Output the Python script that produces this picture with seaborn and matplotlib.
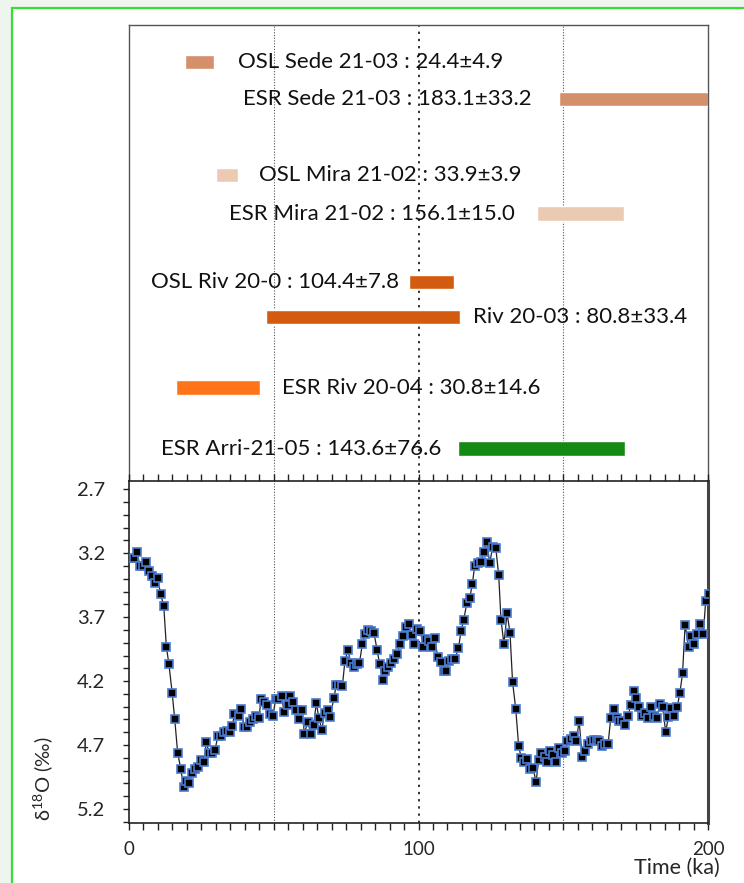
import numpy as np
import pandas as pd

import matplotlib.pyplot as plt
import matplotlib.patches as mpatches
import seaborn as sns

# ---- dated samples (bars in the top panel) ----
sample_labels = ['OSL Sede 21-03 : 24.4±4.9', 'ESR Sede 21-03 : 183.1±33.2',
                 'OSL Mira 21-02 : 33.9±3.9', 'ESR Mira 21-02 : 156.1±15.0',
                 'OSL Riv 20-0 : 104.4±7.8', 'Riv 20-03 : 80.8±33.4',
                 'ESR Riv 20-04 : 30.8±14.6', 'ESR Arri-21-05 : 143.6±76.6']
bar_lo = [19.5, 148.5, 30.0, 141.1, 96.6, 47.4, 16.2, 113.6]
bar_hi = [29.3, 216.3, 37.8, 171.1, 112.2, 114.2, 45.4, 171.3]
bar_colors = ['#d4906a', '#d4906a', '#ebcab3', '#ebcab3',
              '#d35b10', '#d35b10', '#ff7419', '#148a14']

# ---- benthic d18O stack, 0-200 ka ----
age = [0.7, 1.8, 2.9, 3.7, 4.8, 6.0, 6.9, 7.8, 8.9, 9.9, 10.9, 12.0, 12.9, 13.8, 14.9,
       15.8, 16.8, 17.9, 18.9, 19.8, 20.8, 21.9, 22.8, 23.8, 24.9, 25.9, 26.7, 27.7, 28.8,
       29.7, 30.7, 31.8, 32.8, 33.9, 34.9, 35.7, 36.4, 37.9, 38.8, 39.7, 40.9, 41.8, 42.9,
       43.8, 44.8, 45.7, 46.6, 47.8, 48.6, 49.7, 50.7, 51.6, 52.7, 53.6, 54.8, 55.7, 56.8,
       57.7, 58.6, 59.7, 60.6, 61.7, 62.8, 63.8, 64.7, 65.6, 66.6, 67.6, 68.6, 69.5, 70.8,
       71.6, 72.6, 73.7, 74.6, 75.6, 76.7, 77.7, 78.6, 79.6, 80.6, 81.5, 82.7, 83.6, 84.6,
       85.7, 86.6, 87.6, 88.5, 89.6, 90.6, 91.6, 92.6, 93.6, 94.6, 95.6, 96.6, 97.7, 98.6,
       99.5, 100.6, 101.7, 102.5, 103.5, 104.6, 105.6, 106.6, 107.7, 108.7, 109.6, 110.6,
       111.7, 112.6, 113.8, 114.7, 115.6, 116.7, 117.7, 118.6, 119.4, 120.4, 121.6, 122.5,
       123.6, 124.6, 125.6, 126.7, 127.7, 128.5, 129.5, 130.6, 131.6, 132.5, 133.6, 134.6,
       135.5, 136.6, 137.6, 138.5, 139.6, 140.6, 141.5, 142.4, 143.6, 144.5, 145.4, 146.6,
       147.5, 148.4, 149.6, 150.7, 151.4, 152.6, 153.6, 154.5, 155.5, 156.5, 157.5, 158.5,
       159.5, 160.5, 161.5, 162.5, 163.4, 164.4, 165.5, 166.4, 167.4, 168.5, 169.4, 170.4,
       171.4, 172.4, 173.3, 174.4, 175.3, 176.3, 177.2, 178.2, 179.3, 180.2, 181.3, 182.3,
       183.4, 184.3, 185.4, 186.3, 187.3, 188.3, 189.4, 190.3, 191.2, 192.1, 193.3, 194.2,
       195.3, 196.3, 197.4, 198.4, 199.2, 200.2]
d18o = [3.24, 3.24, 3.19, 3.30, 3.30, 3.27, 3.34, 3.38, 3.43, 3.39, 3.52, 3.61, 3.93, 4.07, 4.29,
        4.50, 4.76, 4.89, 5.03, 4.98, 5.00, 4.92, 4.89, 4.87, 4.82, 4.83, 4.68, 4.76, 4.76,
        4.74, 4.63, 4.63, 4.60, 4.59, 4.60, 4.55, 4.46, 4.47, 4.42, 4.56, 4.56, 4.52, 4.50,
        4.47, 4.49, 4.34, 4.36, 4.39, 4.46, 4.47, 4.34, 4.34, 4.32, 4.44, 4.39, 4.32, 4.36,
        4.43, 4.50, 4.43, 4.61, 4.52, 4.61, 4.54, 4.37, 4.49, 4.58, 4.45, 4.43, 4.48, 4.33,
        4.23, 4.23, 4.24, 4.04, 3.96, 4.06, 4.09, 4.07, 4.06, 3.91, 3.83, 3.80, 3.81, 3.82,
        3.96, 4.07, 4.19, 4.12, 4.09, 4.06, 4.03, 3.99, 3.91, 3.85, 3.78, 3.75, 3.84, 3.91,
        3.79, 3.81, 3.93, 3.87, 3.89, 3.93, 3.86, 4.01, 4.05, 4.12, 4.12, 4.04,
        4.03, 4.03, 3.94, 3.81, 3.72, 3.59, 3.55, 3.44, 3.30, 3.28, 3.27, 3.19,
        3.11, 3.28, 3.15, 3.16, 3.37, 3.72, 3.91, 3.67, 3.82, 4.21, 4.42, 4.71,
        4.80, 4.83, 4.81, 4.89, 4.88, 4.99, 4.82, 4.76, 4.79, 4.83, 4.75, 4.78,
        4.83, 4.72, 4.76, 4.75, 4.67, 4.65, 4.63, 4.67, 4.51, 4.79, 4.75, 4.69,
        4.67, 4.66, 4.66, 4.67, 4.71, 4.69, 4.69, 4.49, 4.42, 4.49, 4.51, 4.51,
        4.54, 4.47, 4.39, 4.28, 4.33, 4.40, 4.47, 4.45, 4.49, 4.40, 4.47, 4.49,
        4.38, 4.40, 4.60, 4.48, 4.41, 4.47, 4.40, 4.29, 4.14, 3.76, 3.93, 3.85,
        3.91, 3.83, 3.75, 3.83, 3.57, 3.52]

x_labels = ['0', '100', '200']
y_labels = ['2.7', '3.2', '3.7', '4.2', '4.7', '5.2']

sns.set_theme(style='white')
plt.rcParams['font.family'] = ['Lato', 'DejaVu Sans']
plt.rcParams['mathtext.default'] = 'regular'

W, H = 744, 883
fig = plt.figure(figsize=(W / 100, H / 100), dpi=100)
fig.patch.set_facecolor('white')

# outer green frame
fig.patches.append(mpatches.Rectangle((0, 0), 1, 1, transform=fig.transFigure,
                                      facecolor='#eef4ee', edgecolor='none', zorder=-3))
fig.patches.append(mpatches.Rectangle((12 / W, -0.1), 1.2, 1 - 8 / H + 0.1,
                                      transform=fig.transFigure, facecolor='white',
                                      edgecolor='#33e033', lw=1.6, zorder=-2))

L, R = 129 / W, 708 / W
ax1 = fig.add_axes([L, 1 - 480 / H, R - L, (480 - 25) / H])
ax2 = fig.add_axes([L, 1 - 823 / H, R - L, (823 - 481) / H])

# ---- top panel: age ranges ----
rows = [1.0, 2.0, 4.05, 5.1, 6.95, 7.9, 9.8, 11.45]
text_x = [37.7, 39.4, 44.9, 34.5, 93.2, 118.8, 52.8, 10.9]
text_ha = ['left', 'left', 'left', 'left', 'right', 'left', 'left', 'left']
lo = np.array(bar_lo)
hi = np.array(bar_hi)
ax1.barh(rows, hi - lo, left=lo, height=0.39, color=bar_colors, zorder=3)
for lab, tx, ry, ha in zip(sample_labels, text_x, rows, text_ha):
    ax1.text(tx, ry, lab, ha=ha, va='center', fontsize=16, color='#111111', zorder=4)
ax1.set_xlim(0, 200)
ax1.set_ylim(12.3, 0)
ax1.set_xticks([])
ax1.set_yticks([])
for s in ['left', 'top', 'right']:
    ax1.spines[s].set_color('#555555')
    ax1.spines[s].set_linewidth(1.0)
ax1.spines['bottom'].set_visible(False)

# ---- bottom panel: d18O ----
df = pd.DataFrame({'age': age, 'd18O': d18o})
sns.lineplot(data=df, x='age', y='d18O', ax=ax2, color='#222222', lw=0.9,
             marker='s', markersize=5.2, markerfacecolor='black',
             markeredgecolor='#4a7bd0', markeredgewidth=1.2, zorder=3, clip_on=True)
ax2.set_xlim(0, 200)
ax2.set_ylim(5.31, 2.635)
xt = np.arange(0, 201, 5)
ax2.set_xticks(xt)
ax2.set_xticklabels([x_labels[int(t) // 100] if t % 100 == 0 else '' for t in xt])
yt = np.round(np.arange(2.7, 5.31, 0.1), 1)
ax2.set_yticks(yt)
ax2.set_yticklabels([y_labels[i // 5] if i % 5 == 0 else '' for i in range(len(yt))])
ax2.tick_params(axis='x', which='major', direction='out', length=5, width=1,
                top=True, bottom=True, labelsize=13.5, pad=8, color='#222222')
ax2.tick_params(axis='y', which='major', direction='out', length=4, width=1,
                left=True, labelsize=14.5, pad=13, color='#222222')
ax2.set_xlabel('')
ax2.set_ylabel(r'δ$^{18}$O (‰)', fontsize=14.5)
ax2.yaxis.set_label_coords(-0.128, 0.13)
for s in ['left', 'bottom', 'top']:
    ax2.spines[s].set_color('#222222')
    ax2.spines[s].set_linewidth(1.2)
ax2.spines['right'].set_color('#444444')
ax2.spines['right'].set_linewidth(2.2)

fig.text(720 / W, 1 - 868 / H, 'Time (ka)', ha='right', va='center', fontsize=15.5)

# dotted reference lines through both panels
for ax in (ax1, ax2):
    for xv, lw, ls, col in [(50, 0.8, (0, (1, 1.5)), '#555555'),
                            (100, 1.4, (0, (1.2, 2.5)), '#333333'),
                            (150, 0.8, (0, (1, 1.5)), '#555555')]:
        ax.axvline(xv, color=col, lw=lw, ls=ls, zorder=1)

plt.savefig('out.png', dpi=100)
plt.close()
